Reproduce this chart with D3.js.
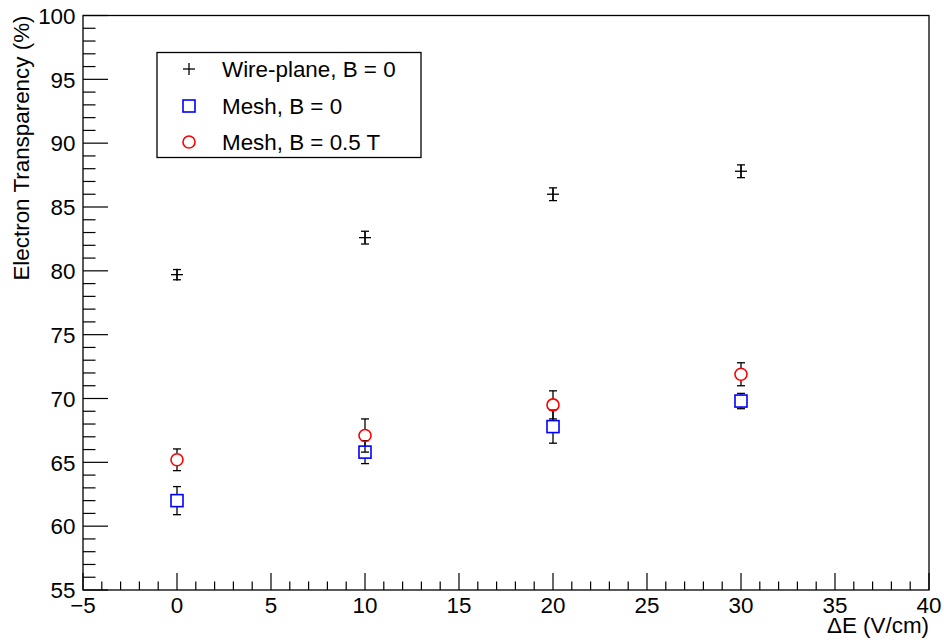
<!DOCTYPE html>
<html>
<head>
<meta charset="utf-8">
<script src="https://d3js.org/d3.v7.min.js"></script>
<style>
  body { margin: 0; background: #fff; }
  text { font-family: "Liberation Sans", Arial, sans-serif; }
</style>
</head>
<body>
<script>
// data
const deltaE = [0, 10, 20, 30];
const wireB0 = [79.7, 82.6, 86.0, 87.8];
const wireB0Err = [0.4, 0.5, 0.5, 0.5];
const meshB0 = [62.0, 65.8, 67.8, 69.8];
const meshB0Err = [1.1, 0.9, 1.3, 0.6];
const meshB05 = [65.2, 67.1, 69.5, 71.9];
const meshB05Err = [0.85, 1.3, 1.1, 0.9];
const xTicks = [-5, 0, 5, 10, 15, 20, 25, 30, 35, 40];
const yTicks = [55, 60, 65, 70, 75, 80, 85, 90, 95, 100];
const legendLabels = ['Wire-plane, B = 0', 'Mesh, B = 0', 'Mesh, B = 0.5 T'];

const width = 944, height = 640;
const margin = {top: 15.5, right: 15, bottom: 50, left: 83};
const fs = 22.4;

const svg = d3.select('body').append('svg')
  .attr('width', width).attr('height', height);

const x = d3.scaleLinear().domain([-5, 40]).range([margin.left, width - margin.right]);
const y = d3.scaleLinear().domain([55, 100]).range([height - margin.bottom, margin.top]);

// frame
svg.append('rect')
  .attr('x', x(-5)).attr('y', y(100))
  .attr('width', x(40) - x(-5)).attr('height', y(55) - y(100))
  .attr('fill', 'none').attr('stroke', '#000').attr('stroke-width', 1.3);

// x axis ticks
const xMinor = d3.range(-5, 40.01, 1);
svg.append('g').selectAll('line').data(xMinor).enter().append('line')
  .attr('x1', d => x(d)).attr('x2', d => x(d))
  .attr('y1', y(55)).attr('y2', d => y(55) - (d % 5 === 0 ? 17 : 8.5))
  .attr('stroke', '#000').attr('stroke-width', 1.2);
svg.append('g').selectAll('text').data(xTicks).enter().append('text')
  .attr('x', d => x(d)).attr('y', y(55) + 23)
  .attr('text-anchor', 'middle').attr('font-size', fs)
  .text(d => d < 0 ? '\u2212' + Math.abs(d) : d);

// y axis ticks
const yMinor = d3.range(55, 100.01, 1);
svg.append('g').selectAll('line').data(yMinor).enter().append('line')
  .attr('x1', x(-5)).attr('x2', d => x(-5) + (d % 5 === 0 ? 25 : 12.5))
  .attr('y1', d => y(d)).attr('y2', d => y(d))
  .attr('stroke', '#000').attr('stroke-width', 1.2);
svg.append('g').selectAll('text').data(yTicks).enter().append('text')
  .attr('x', x(-5) - 7.5).attr('y', d => y(d) + 8.3)
  .attr('text-anchor', 'end').attr('font-size', fs)
  .text(d => d);

// axis titles
svg.append('text')
  .attr('x', x(40)).attr('y', 633)
  .attr('text-anchor', 'end').attr('font-size', fs)
  .text('\u0394E (V/cm)');
svg.append('text')
  .attr('transform', `translate(28.5, ${y(100)}) rotate(-90)`)
  .attr('text-anchor', 'end').attr('font-size', fs)
  .text('Electron Transparency (%)');

// error bars (ROOT style: not drawn through the marker)
function errorBars(vals, errs, gap) {
  const g = svg.append('g').attr('stroke', '#000').attr('stroke-width', 1.3);
  deltaE.forEach((d, i) => {
    const cx = x(d), cy = y(vals[i]);
    const top = y(vals[i] + errs[i]), bot = y(vals[i] - errs[i]);
    if (top < cy - gap) g.append('line').attr('x1', cx).attr('x2', cx).attr('y1', top).attr('y2', cy - gap);
    if (bot > cy + gap) g.append('line').attr('x1', cx).attr('x2', cx).attr('y1', cy + gap).attr('y2', bot);
    g.append('line').attr('x1', cx - 4).attr('x2', cx + 4).attr('y1', top).attr('y2', top);
    g.append('line').attr('x1', cx - 4).attr('x2', cx + 4).attr('y1', bot).attr('y2', bot);
  });
}

errorBars(wireB0, wireB0Err, 0);
errorBars(meshB0, meshB0Err, 6);
errorBars(meshB05, meshB05Err, 6);

function plusMarker(g, cx, cy) {
  g.append('line').attr('x1', cx - 6).attr('x2', cx + 6).attr('y1', cy).attr('y2', cy);
  g.append('line').attr('x1', cx).attr('x2', cx).attr('y1', cy - 6).attr('y2', cy + 6);
}
function squareMarker(g, cx, cy) {
  g.append('rect').attr('x', cx - 6).attr('y', cy - 6).attr('width', 12).attr('height', 12);
}
function circleMarker(g, cx, cy) {
  g.append('circle').attr('cx', cx).attr('cy', cy).attr('r', 6);
}

const gWire = svg.append('g').attr('stroke', '#000').attr('stroke-width', 1.3);
deltaE.forEach((d, i) => plusMarker(gWire, x(d), y(wireB0[i])));
const gMesh = svg.append('g').attr('stroke', '#0000ff').attr('stroke-width', 1.6).attr('fill', 'none');
deltaE.forEach((d, i) => squareMarker(gMesh, x(d), y(meshB0[i])));
const gMesh5 = svg.append('g').attr('stroke', '#ff0000').attr('stroke-width', 1.6).attr('fill', 'none');
deltaE.forEach((d, i) => circleMarker(gMesh5, x(d), y(meshB05[i])));

// legend
const lg = svg.append('g');
lg.append('rect').attr('x', 157).attr('y', 52.5).attr('width', 264).attr('height', 105)
  .attr('fill', '#fff').attr('stroke', '#000').attr('stroke-width', 1.3);
const rowY = [69, 106, 142];
const colors = ['#000', '#0000ff', '#ff0000'];
const markers = [plusMarker, squareMarker, circleMarker];
legendLabels.forEach((lab, i) => {
  const m = lg.append('g').attr('stroke', colors[i]).attr('stroke-width', i === 0 ? 1.3 : 1.6).attr('fill', 'none');
  markers[i](m, 189, rowY[i]);
  lg.append('text').attr('x', 222).attr('y', rowY[i] + 8.3)
    .attr('font-size', fs).text(lab);
});
</script>
</body>
</html>
